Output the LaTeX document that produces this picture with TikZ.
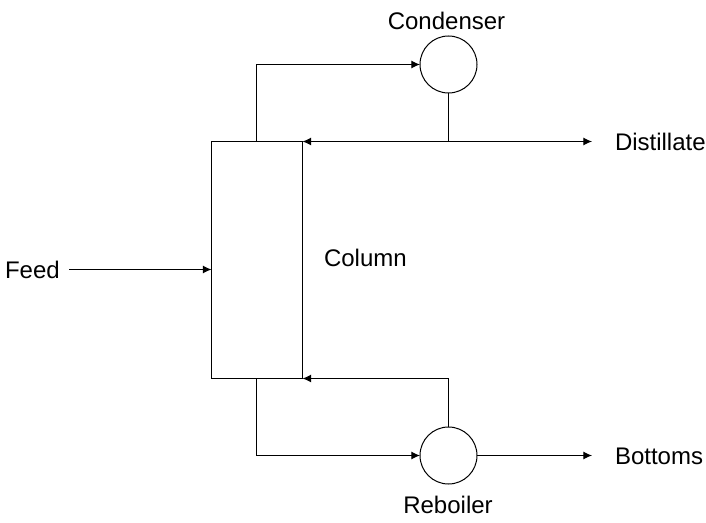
\documentclass[tikz,border=0pt]{standalone}
\usepackage{fontspec}
\setmainfont{Liberation Sans}
\usetikzlibrary{arrows.meta}
\tikzset{
  stream/.style={-{Latex[length=6.5pt,width=6pt]}},
  vessel/.style={draw, circle, outer sep=0pt, minimum size=42.75pt, inner sep=0pt},
  tag/.style={font=\fontsize{18}{21}\selectfont, inner sep=0pt},
}
\begin{document}
\begin{tikzpicture}[x=0.75pt, y=-0.75pt, line width=0.75pt]
\useasboundingbox (0, 0) rectangle (706, 523);
\node [draw, outer sep=0pt, minimum width=68.25pt, minimum height=177.75pt, inner sep=0pt] (column) at (257, 260) {};
\node [vessel] (condenser) at (448.5, 64.5) {};
\node [vessel] (reboiler) at (448.5, 455.5) {};
\coordinate (feedend) at (69, 269.5);
\coordinate (tiptop) at (condenser.south |- column.north east);
\coordinate (tipbottom) at (reboiler.north |- column.south east);
\coordinate (distillate) at (592, 141.5);
\coordinate (bottoms) at (592, 455.5);
\coordinate (overhead) at (256.5, 141.5);
\coordinate (underflow) at (256.5, 378.5);

\node [tag, anchor=west] (feedlabel) at (4.5, 270) {Feed};
\node [tag, anchor=west] (columnlabel) at (323.5, 258) {Column};
\node [tag] (condenserlabel) at (446.5, 21) {Condenser};
\node [tag] (reboilerlabel) at (448, 505) {Reboiler};
\node [tag, anchor=west] (distillatelabel) at (614.5, 142) {Distillate};
\node [tag, anchor=west] (bottomslabel) at (614.5, 456) {Bottoms};

%%%%%%%%%%%%%%%%%%%%%%%%%%%%%%%%%%%%%%%%

\draw [stream] (feedend) -- (feedend -| column.west);
\draw [stream] (overhead) |- (condenser.west);
\draw (condenser.south) -- (tiptop);
\draw [stream] (tiptop) -- (column.north east);
\draw [stream] (tiptop) -- (distillate);
\draw [stream] (underflow) |- (reboiler.west);
\draw (reboiler.north) -- (tipbottom);
\draw [stream] (tipbottom) -- (column.south east);
\draw [stream] (reboiler.east) -- (bottoms);
\end{tikzpicture}
\end{document}
